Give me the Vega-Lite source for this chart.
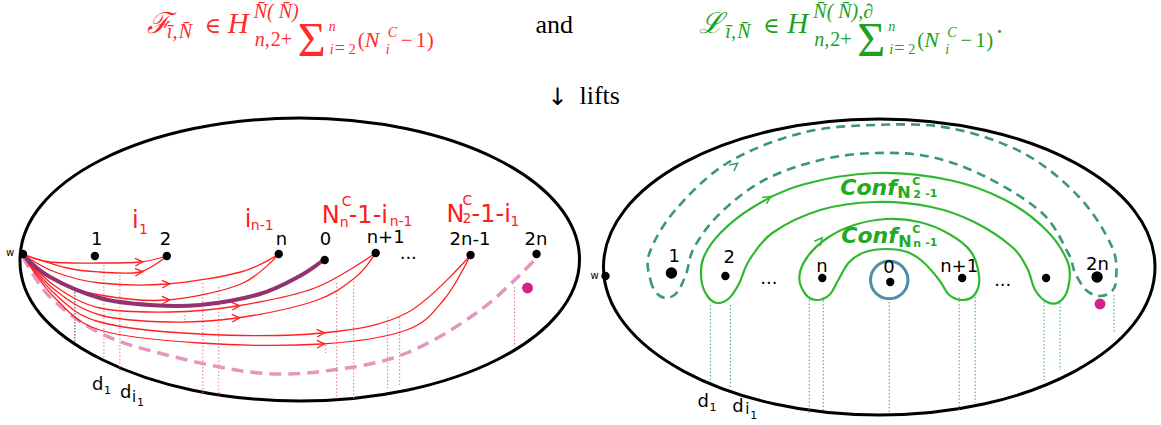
{
"$schema":"https://vega.github.io/schema/vega-lite/v6.json",
"width":1161,"height":425,
"autosize":{"type":"fit","contains":"padding"},
"padding":0,
"background":"white",
"config":{"view":{"stroke":null}},
"encoding":{
 "x":{"field":"x","type":"quantitative","scale":{"domain":[0,1161],"nice":false,"zero":false},"axis":null},
 "y":{"field":"y","type":"quantitative","scale":{"domain":[0,425],"nice":false,"zero":false,"reverse":true},"axis":null}
},
"datasets":{
"curves":[
{"kind":"ellipse","id":"eL","k":0,"x":580,"y":259.5},{"kind":"ellipse","id":"eL","k":1,"x":558.7,"y":313.7},{"kind":"ellipse","id":"eL","k":2,"x":498,"y":359.5},{"kind":"ellipse","id":"eL","k":3,"x":407.2,"y":390.2},{"kind":"ellipse","id":"eL","k":4,"x":300,"y":401},{"kind":"ellipse","id":"eL","k":5,"x":192.8,"y":390.2},{"kind":"ellipse","id":"eL","k":6,"x":102,"y":359.5},{"kind":"ellipse","id":"eL","k":7,"x":40,"y":313.7},{"kind":"ellipse","id":"eL","k":8,"x":20,"y":259.5},{"kind":"ellipse","id":"eL","k":9,"x":41.3,"y":205.3},{"kind":"ellipse","id":"eL","k":10,"x":102,"y":159.5},{"kind":"ellipse","id":"eL","k":11,"x":192.8,"y":128.8},{"kind":"ellipse","id":"eL","k":12,"x":300,"y":118},{"kind":"ellipse","id":"eL","k":13,"x":407.2,"y":128.8},{"kind":"ellipse","id":"eL","k":14,"x":498,"y":159.5},{"kind":"ellipse","id":"eL","k":15,"x":558.7,"y":205.3},
{"kind":"ellipse","id":"eR","k":0,"x":1156,"y":267},{"kind":"ellipse","id":"eR","k":1,"x":1135,"y":323.7},{"kind":"ellipse","id":"eR","k":2,"x":1075.1,"y":371.6},{"kind":"ellipse","id":"eR","k":3,"x":985.7,"y":403.8},{"kind":"ellipse","id":"eR","k":4,"x":880,"y":415},{"kind":"ellipse","id":"eR","k":5,"x":774.3,"y":403.8},{"kind":"ellipse","id":"eR","k":6,"x":684.9,"y":371.6},{"kind":"ellipse","id":"eR","k":7,"x":625,"y":323.7},{"kind":"ellipse","id":"eR","k":8,"x":604,"y":267},{"kind":"ellipse","id":"eR","k":9,"x":625,"y":210.3},{"kind":"ellipse","id":"eR","k":10,"x":684.9,"y":162.4},{"kind":"ellipse","id":"eR","k":11,"x":774.3,"y":130.2},{"kind":"ellipse","id":"eR","k":12,"x":880,"y":119},{"kind":"ellipse","id":"eR","k":13,"x":985.7,"y":130.2},{"kind":"ellipse","id":"eR","k":14,"x":1075.1,"y":162.4},{"kind":"ellipse","id":"eR","k":15,"x":1135,"y":210.3},
{"kind":"red","id":"r1","k":0,"x":22,"y":254},{"kind":"red","id":"r1","k":1,"x":50,"y":262},{"kind":"red","id":"r1","k":2,"x":100,"y":263},{"kind":"red","id":"r1","k":3,"x":140,"y":262},{"kind":"red","id":"r1","k":4,"x":167,"y":256},
{"kind":"red","id":"r2","k":0,"x":22,"y":254},{"kind":"red","id":"r2","k":1,"x":67,"y":268},{"kind":"red","id":"r2","k":2,"x":100,"y":272},{"kind":"red","id":"r2","k":3,"x":140,"y":272},{"kind":"red","id":"r2","k":4,"x":167,"y":256},
{"kind":"red","id":"r3","k":0,"x":22,"y":254},{"kind":"red","id":"r3","k":1,"x":55,"y":272},{"kind":"red","id":"r3","k":2,"x":100,"y":283},{"kind":"red","id":"r3","k":3,"x":167,"y":284},{"kind":"red","id":"r3","k":4,"x":241,"y":272},{"kind":"red","id":"r3","k":5,"x":279,"y":254},
{"kind":"red","id":"r4","k":0,"x":22,"y":254},{"kind":"red","id":"r4","k":1,"x":55,"y":280},{"kind":"red","id":"r4","k":2,"x":100,"y":295},{"kind":"red","id":"r4","k":3,"x":167,"y":300},{"kind":"red","id":"r4","k":4,"x":241,"y":284},{"kind":"red","id":"r4","k":5,"x":279,"y":254},
{"kind":"red","id":"r5","k":0,"x":22,"y":254},{"kind":"red","id":"r5","k":1,"x":55,"y":286},{"kind":"red","id":"r5","k":2,"x":100,"y":308},{"kind":"red","id":"r5","k":3,"x":170,"y":312},{"kind":"red","id":"r5","k":4,"x":237,"y":306},{"kind":"red","id":"r5","k":5,"x":315,"y":288},{"kind":"red","id":"r5","k":6,"x":376,"y":253},
{"kind":"red","id":"r6","k":0,"x":22,"y":254},{"kind":"red","id":"r6","k":1,"x":55,"y":290},{"kind":"red","id":"r6","k":2,"x":100,"y":315},{"kind":"red","id":"r6","k":3,"x":170,"y":322},{"kind":"red","id":"r6","k":4,"x":237,"y":318},{"kind":"red","id":"r6","k":5,"x":315,"y":301},{"kind":"red","id":"r6","k":6,"x":355,"y":278},{"kind":"red","id":"r6","k":7,"x":376,"y":253},
{"kind":"red","id":"r7","k":0,"x":22,"y":254},{"kind":"red","id":"r7","k":1,"x":55,"y":294},{"kind":"red","id":"r7","k":2,"x":100,"y":322},{"kind":"red","id":"r7","k":3,"x":200,"y":334},{"kind":"red","id":"r7","k":4,"x":322,"y":333},{"kind":"red","id":"r7","k":5,"x":407,"y":313},{"kind":"red","id":"r7","k":6,"x":471,"y":255},
{"kind":"red","id":"r8","k":0,"x":22,"y":254},{"kind":"red","id":"r8","k":1,"x":55,"y":298},{"kind":"red","id":"r8","k":2,"x":100,"y":330},{"kind":"red","id":"r8","k":3,"x":200,"y":343},{"kind":"red","id":"r8","k":4,"x":322,"y":344},{"kind":"red","id":"r8","k":5,"x":407,"y":330},{"kind":"red","id":"r8","k":6,"x":444,"y":300},{"kind":"red","id":"r8","k":7,"x":471,"y":255},
{"kind":"purple","id":"p","k":0,"x":22,"y":254},{"kind":"purple","id":"p","k":1,"x":50,"y":277},{"kind":"purple","id":"p","k":2,"x":100,"y":298},{"kind":"purple","id":"p","k":3,"x":150,"y":305},{"kind":"purple","id":"p","k":4,"x":200,"y":305},{"kind":"purple","id":"p","k":5,"x":260,"y":294},{"kind":"purple","id":"p","k":6,"x":300,"y":276},{"kind":"purple","id":"p","k":7,"x":325,"y":259},
{"kind":"pink","id":"pk","k":0,"x":23,"y":257},{"kind":"pink","id":"pk","k":1,"x":50,"y":297},{"kind":"pink","id":"pk","k":2,"x":100,"y":333},{"kind":"pink","id":"pk","k":3,"x":167,"y":355},{"kind":"pink","id":"pk","k":4,"x":259,"y":373},{"kind":"pink","id":"pk","k":5,"x":333,"y":370},{"kind":"pink","id":"pk","k":6,"x":407,"y":353},{"kind":"pink","id":"pk","k":7,"x":481,"y":310},{"kind":"pink","id":"pk","k":8,"x":537,"y":258},
{"kind":"green","id":"g1","k":0,"x":702,"y":280},{"kind":"green","id":"g1","k":1,"x":708,"y":296},{"kind":"green","id":"g1","k":2,"x":718,"y":303},{"kind":"green","id":"g1","k":3,"x":730,"y":298},{"kind":"green","id":"g1","k":4,"x":740,"y":283},{"kind":"green","id":"g1","k":5,"x":750,"y":260},{"kind":"green","id":"g1","k":6,"x":773,"y":233},{"kind":"green","id":"g1","k":7,"x":821,"y":210},{"kind":"green","id":"g1","k":8,"x":876,"y":202},{"kind":"green","id":"g1","k":9,"x":932,"y":207},{"kind":"green","id":"g1","k":10,"x":975,"y":222},{"kind":"green","id":"g1","k":11,"x":1013,"y":247},{"kind":"green","id":"g1","k":12,"x":1028,"y":268},{"kind":"green","id":"g1","k":13,"x":1036,"y":290},{"kind":"green","id":"g1","k":14,"x":1048,"y":302},{"kind":"green","id":"g1","k":15,"x":1060,"y":302},{"kind":"green","id":"g1","k":16,"x":1069,"y":288},{"kind":"green","id":"g1","k":17,"x":1069,"y":263},{"kind":"green","id":"g1","k":18,"x":1047,"y":230},{"kind":"green","id":"g1","k":19,"x":1006,"y":200},{"kind":"green","id":"g1","k":20,"x":950,"y":180},{"kind":"green","id":"g1","k":21,"x":876,"y":173},{"kind":"green","id":"g1","k":22,"x":802,"y":185},{"kind":"green","id":"g1","k":23,"x":754,"y":207},{"kind":"green","id":"g1","k":24,"x":721,"y":233},{"kind":"green","id":"g1","k":25,"x":704,"y":258},
{"kind":"green","id":"g2","k":0,"x":800,"y":277},{"kind":"green","id":"g2","k":1,"x":806,"y":294},{"kind":"green","id":"g2","k":2,"x":817,"y":300},{"kind":"green","id":"g2","k":3,"x":830,"y":295},{"kind":"green","id":"g2","k":4,"x":839,"y":280},{"kind":"green","id":"g2","k":5,"x":850,"y":262},{"kind":"green","id":"g2","k":6,"x":866,"y":252},{"kind":"green","id":"g2","k":7,"x":887,"y":249},{"kind":"green","id":"g2","k":8,"x":908,"y":252},{"kind":"green","id":"g2","k":9,"x":924,"y":262},{"kind":"green","id":"g2","k":10,"x":940,"y":280},{"kind":"green","id":"g2","k":11,"x":950,"y":295},{"kind":"green","id":"g2","k":12,"x":964,"y":300},{"kind":"green","id":"g2","k":13,"x":976,"y":294},{"kind":"green","id":"g2","k":14,"x":980,"y":277},{"kind":"green","id":"g2","k":15,"x":972,"y":252},{"kind":"green","id":"g2","k":16,"x":950,"y":234},{"kind":"green","id":"g2","k":17,"x":920,"y":222},{"kind":"green","id":"g2","k":18,"x":887,"y":219},{"kind":"green","id":"g2","k":19,"x":855,"y":225},{"kind":"green","id":"g2","k":20,"x":828,"y":238},{"kind":"green","id":"g2","k":21,"x":808,"y":257},
{"kind":"teal","id":"t1","k":0,"x":650,"y":253},{"kind":"teal","id":"t1","k":1,"x":651,"y":280},{"kind":"teal","id":"t1","k":2,"x":658,"y":294},{"kind":"teal","id":"t1","k":3,"x":668,"y":298},{"kind":"teal","id":"t1","k":4,"x":678,"y":292},{"kind":"teal","id":"t1","k":5,"x":687,"y":273},{"kind":"teal","id":"t1","k":6,"x":695,"y":247},{"kind":"teal","id":"t1","k":7,"x":721,"y":213},{"kind":"teal","id":"t1","k":8,"x":765,"y":180},{"kind":"teal","id":"t1","k":9,"x":821,"y":160},{"kind":"teal","id":"t1","k":10,"x":876,"y":153},{"kind":"teal","id":"t1","k":11,"x":932,"y":157},{"kind":"teal","id":"t1","k":12,"x":987,"y":177},{"kind":"teal","id":"t1","k":13,"x":1043,"y":213},{"kind":"teal","id":"t1","k":14,"x":1069,"y":253},{"kind":"teal","id":"t1","k":15,"x":1076,"y":273},{"kind":"teal","id":"t1","k":16,"x":1087,"y":290},{"kind":"teal","id":"t1","k":17,"x":1100,"y":296},{"kind":"teal","id":"t1","k":18,"x":1112,"y":292},{"kind":"teal","id":"t1","k":19,"x":1117,"y":280},{"kind":"teal","id":"t1","k":20,"x":1113,"y":247},{"kind":"teal","id":"t1","k":21,"x":1080,"y":197},{"kind":"teal","id":"t1","k":22,"x":1024,"y":153},{"kind":"teal","id":"t1","k":23,"x":950,"y":128},{"kind":"teal","id":"t1","k":24,"x":876,"y":125},{"kind":"teal","id":"t1","k":25,"x":802,"y":133},{"kind":"teal","id":"t1","k":26,"x":728,"y":163},{"kind":"teal","id":"t1","k":27,"x":676,"y":210}
],
"rules":[
{"side":"Ldark","x":75,"y":292,"y2":343},
{"side":"L","x":104,"y":265,"y2":358},{"side":"L","x":120,"y":275,"y2":372},{"side":"L","x":185,"y":315,"y2":323},{"side":"L","x":203,"y":283,"y2":395},{"side":"L","x":219,"y":287,"y2":397},{"side":"L","x":326,"y":345,"y2":353},{"side":"L","x":337,"y":283,"y2":398},{"side":"L","x":354,"y":278,"y2":399},{"side":"L","x":388,"y":317,"y2":390},{"side":"L","x":400,"y":317,"y2":387},{"side":"L","x":515,"y":287,"y2":347},
{"side":"R","x":711,"y":305,"y2":382},{"side":"R","x":731,"y":305,"y2":387},{"side":"R","x":810,"y":300,"y2":413},{"side":"R","x":824,"y":297,"y2":410},{"side":"R","x":890,"y":302,"y2":413},{"side":"R","x":960,"y":297,"y2":410},{"side":"R","x":976,"y":297,"y2":403},{"side":"R","x":1045,"y":302,"y2":380},{"side":"R","x":1061,"y":303,"y2":370},{"side":"R","x":1115,"y":295,"y2":333}
],
"dots":[
{"kind":"plain","x":23,"y":254},{"kind":"plain","x":95,"y":256},{"kind":"plain","x":167,"y":256},{"kind":"plain","x":279,"y":254},{"kind":"plain","x":325,"y":260},{"kind":"plain","x":376,"y":253},{"kind":"plain","x":471,"y":255},{"kind":"plain","x":537,"y":254},
{"kind":"plain","x":606,"y":276},{"kind":"plain","x":726,"y":276},{"kind":"plain","x":823,"y":278},{"kind":"plain","x":891,"y":282},{"kind":"plain","x":963,"y":278},{"kind":"plain","x":1047,"y":278},
{"kind":"big","x":672,"y":273},{"kind":"big","x":1098,"y":277},
{"kind":"base","x":528,"y":288},{"kind":"base","x":1101,"y":304},
{"kind":"ring","x":890,"y":280}
],
"arrows":[
{"id":"left","x":140,"y":262},{"id":"left","x":140,"y":272},{"id":"left","x":167,"y":284},{"id":"left","x":167,"y":300},{"id":"left","x":237,"y":306},{"id":"left","x":237,"y":318},{"id":"left","x":322,"y":333},{"id":"left","x":322,"y":344},
{"id":"dash","x":736,"y":165},{"id":"outer","x":769,"y":198},{"id":"inner","x":821,"y":240}
],
"texts":[
{"role":"sym","part":"F","x":147,"y":33,"t":"ℱ"},{"role":"sym","part":"F","x":228,"y":33,"t":"H"},{"role":"sym","part":"L","x":700,"y":33,"t":"ℒ"},{"role":"sym","part":"L","x":788,"y":33,"t":"H"},
{"role":"rel","part":"F","x":205,"y":33,"t":"∈"},{"role":"rel","part":"L","x":764,"y":33,"t":"∈"},
{"role":"sup","part":"F","x":167,"y":38,"t":"ī,"},{"role":"sup","part":"F","x":179,"y":38,"t":"N̄"},{"role":"sup","part":"F","x":254,"y":18,"t":"N̄("},{"role":"sup","part":"F","x":279,"y":18,"t":"N̄)"},{"role":"sup","part":"F","x":255,"y":46,"t":"n,"},
{"role":"sup","part":"L","x":726,"y":38,"t":"ī,"},{"role":"sup","part":"L","x":738,"y":38,"t":"N̄"},{"role":"sup","part":"L","x":814,"y":18,"t":"N̄("},{"role":"sup","part":"L","x":839,"y":18,"t":"N̄),∂"},{"role":"sup","part":"L","x":815,"y":46,"t":"n,"},
{"role":"supU","part":"F","x":271,"y":46,"t":"2+"},{"role":"supU","part":"L","x":831,"y":46,"t":"2+"},
{"role":"sum","part":"F","x":298,"y":56,"t":"Σ"},{"role":"sum","part":"L","x":858,"y":56,"t":"Σ"},
{"role":"idx","part":"F","x":329,"y":31,"t":"n"},{"role":"idx","part":"F","x":330,"y":54,"t":"i"},{"role":"idx","part":"F","x":388,"y":37,"t":"C"},{"role":"idx","part":"F","x":386,"y":54,"t":"i"},
{"role":"idx","part":"L","x":889,"y":31,"t":"n"},{"role":"idx","part":"L","x":890,"y":54,"t":"i"},{"role":"idx","part":"L","x":948,"y":37,"t":"C"},{"role":"idx","part":"L","x":946,"y":54,"t":"i"},
{"role":"idxU","part":"F","x":349,"y":54,"t":"2"},{"role":"idxU","part":"L","x":909,"y":54,"t":"2"},
{"role":"eq","part":"F","x":335,"y":54,"t":"="},{"role":"eq","part":"L","x":895,"y":54,"t":"="},
{"role":"paren","part":"F","x":365,"y":47,"t":"N"},{"role":"paren","part":"L","x":925,"y":47,"t":"N"},
{"role":"parenU","part":"F","x":358,"y":47,"t":"("},{"role":"parenU","part":"F","x":401,"y":47,"t":"−"},{"role":"parenU","part":"F","x":416,"y":47,"t":"1"},{"role":"parenU","part":"F","x":427,"y":47,"t":")"},
{"role":"parenU","part":"L","x":918,"y":47,"t":"("},{"role":"parenU","part":"L","x":961,"y":47,"t":"−"},{"role":"parenU","part":"L","x":976,"y":47,"t":"1"},{"role":"parenU","part":"L","x":987,"y":47,"t":")"},
{"role":"word","part":"K","x":536,"y":33,"t":"and"},{"role":"word","part":"K","x":580,"y":104,"t":"lifts"},{"role":"word","part":"L","x":997,"y":33,"t":"."},
{"role":"arrowsym","part":"K","x":548,"y":105,"t":"↓"},
{"role":"num","part":"K","x":91,"y":245,"t":"1"},{"role":"num","part":"K","x":160,"y":245,"t":"2"},{"role":"num","part":"K","x":276,"y":245,"t":"n"},{"role":"num","part":"K","x":320,"y":245,"t":"0"},{"role":"num","part":"K","x":367,"y":243,"t":"n+1"},{"role":"num","part":"K","x":450,"y":245,"t":"2n-1"},{"role":"num","part":"K","x":525,"y":245,"t":"2n"},{"role":"num","part":"K","x":400,"y":259,"t":"..."},
{"role":"num","part":"K","x":669,"y":262,"t":"1"},{"role":"num","part":"K","x":724,"y":263,"t":"2"},{"role":"num","part":"K","x":817,"y":272,"t":"n"},{"role":"num","part":"K","x":884,"y":273,"t":"0"},{"role":"num","part":"K","x":941,"y":272,"t":"n+1"},{"role":"num","part":"K","x":1087,"y":270,"t":"2n"},{"role":"num","part":"K","x":761,"y":284,"t":"..."},{"role":"num","part":"K","x":995,"y":286,"t":"..."},
{"role":"num","part":"K","x":92,"y":390,"t":"d"},{"role":"num","part":"K","x":120,"y":398,"t":"d"},{"role":"num","part":"K","x":698,"y":407,"t":"d"},{"role":"num","part":"K","x":733,"y":412,"t":"d"},
{"role":"di","part":"K","x":132,"y":402,"t":"i"},{"role":"di","part":"K","x":746,"y":414,"t":"i"},
{"role":"dsub","part":"K","x":104,"y":394,"t":"1"},{"role":"dsub","part":"K","x":137,"y":406,"t":"1"},{"role":"dsub","part":"K","x":710,"y":411,"t":"1"},{"role":"dsub","part":"K","x":751,"y":419,"t":"1"},
{"role":"w","part":"K","x":6,"y":256,"t":"w"},{"role":"w","part":"K","x":591,"y":279,"t":"w"},
{"role":"label","part":"R","x":132,"y":228,"t":"i"},{"role":"label","part":"R","x":245,"y":227,"t":"i"},{"role":"label","part":"R","x":322,"y":223,"t":"N"},{"role":"label","part":"R","x":349,"y":223,"t":"-1-i"},{"role":"label","part":"R","x":447,"y":222,"t":"N"},{"role":"label","part":"R","x":472,"y":222,"t":"-1-i"},
{"role":"labelsub","part":"R","x":139,"y":234,"t":"1"},{"role":"labelsub","part":"R","x":251,"y":230,"t":"n-1"},{"role":"labelsub","part":"R","x":342,"y":206,"t":"C"},{"role":"labelsub","part":"R","x":340,"y":227,"t":"n"},{"role":"labelsub","part":"R","x":390,"y":226,"t":"n-1"},{"role":"labelsub","part":"R","x":463,"y":205,"t":"C"},{"role":"labelsub","part":"R","x":463,"y":223,"t":"2"},{"role":"labelsub","part":"R","x":511,"y":226,"t":"1"},
{"role":"conf","part":"G","x":841,"y":195,"t":"Conf"},{"role":"conf","part":"G","x":842,"y":243,"t":"Conf"},
{"role":"confN","part":"G","x":898,"y":198,"t":"N"},{"role":"confN","part":"G","x":899,"y":247,"t":"N"},
{"role":"confsub","part":"G","x":913,"y":185,"t":"C"},{"role":"confsub","part":"G","x":914,"y":198,"t":"2"},{"role":"confsub","part":"G","x":926,"y":197,"t":"-1"},{"role":"confsub","part":"G","x":913,"y":233,"t":"C"},{"role":"confsub","part":"G","x":914,"y":247,"t":"n"},{"role":"confsub","part":"G","x":926,"y":246,"t":"-1"}
]
},
"layer":[
{"data":{"name":"curves"},"transform":[{"filter":"datum.kind==='ellipse'"}],"mark":{"type":"line","interpolate":"cardinal-closed","stroke":"#000000","strokeWidth":3},"encoding":{"detail":{"field":"id"},"order":{"field":"k","type":"quantitative"}}},
{"data":{"name":"rules"},"transform":[{"filter":"datum.side==='L'"}],"mark":{"type":"rule","stroke":"#e8708e","strokeWidth":1,"strokeDash":[1.5,2]},"encoding":{"y2":{"field":"y2"}}},
{"data":{"name":"rules"},"transform":[{"filter":"datum.side==='Ldark'"}],"mark":{"type":"rule","stroke":"#6a2048","strokeWidth":1,"strokeDash":[1.5,1.5]},"encoding":{"y2":{"field":"y2"}}},
{"data":{"name":"rules"},"transform":[{"filter":"datum.side==='R'"}],"mark":{"type":"rule","stroke":"#3fa07e","strokeWidth":1,"strokeDash":[1.5,2]},"encoding":{"y2":{"field":"y2"}}},
{"data":{"name":"curves"},"transform":[{"filter":"datum.kind==='pink'"}],"mark":{"type":"line","interpolate":"cardinal","stroke":"#e396c0","strokeWidth":3.5,"strokeDash":[12,7]},"encoding":{"detail":{"field":"id"},"order":{"field":"k","type":"quantitative"}}},
{"data":{"name":"curves"},"transform":[{"filter":"datum.kind==='red'"}],"mark":{"type":"line","interpolate":"cardinal","stroke":"#ff1f1f","strokeWidth":1.3},"encoding":{"detail":{"field":"id"},"order":{"field":"k","type":"quantitative"}}},
{"data":{"name":"curves"},"transform":[{"filter":"datum.kind==='purple'"}],"mark":{"type":"line","interpolate":"cardinal","stroke":"#923270","strokeWidth":4},"encoding":{"detail":{"field":"id"},"order":{"field":"k","type":"quantitative"}}},
{"data":{"name":"curves"},"transform":[{"filter":"datum.kind==='green'"}],"mark":{"type":"line","interpolate":"cardinal-closed","stroke":"#2fb82f","strokeWidth":2.2},"encoding":{"detail":{"field":"id"},"order":{"field":"k","type":"quantitative"}}},
{"data":{"name":"curves"},"transform":[{"filter":"datum.kind==='teal'"}],"mark":{"type":"line","interpolate":"cardinal-closed","stroke":"#3d957a","strokeWidth":2.6,"strokeDash":[9,6]},"encoding":{"detail":{"field":"id"},"order":{"field":"k","type":"quantitative"}}},
{"data":{"name":"dots"},"transform":[{"filter":"datum.kind==='ring'"}],"mark":{"type":"point","shape":"circle","filled":false,"stroke":"#4b90a4","strokeWidth":3,"size":1400,"opacity":1}},
{"data":{"name":"dots"},"transform":[{"filter":"datum.kind==='plain'"}],"mark":{"type":"point","shape":"circle","filled":true,"color":"#000000","size":70,"opacity":1}},
{"data":{"name":"dots"},"transform":[{"filter":"datum.kind==='big'"}],"mark":{"type":"point","shape":"circle","filled":true,"color":"#000000","size":130,"opacity":1}},
{"data":{"name":"dots"},"transform":[{"filter":"datum.kind==='base'"}],"mark":{"type":"point","shape":"circle","filled":true,"color":"#d0248c","size":120,"opacity":1}},
{"data":{"name":"arrows"},"transform":[{"filter":"datum.id==='left'"}],"mark":{"type":"point","shape":"M-1,-0.8L0.6,0L-1,0.8","filled":false,"stroke":"#ff1f1f","strokeWidth":1.3,"size":90,"opacity":1,"angle":-3}},
{"data":{"name":"arrows"},"transform":[{"filter":"datum.id==='dash'"}],"mark":{"type":"point","shape":"M-1,-0.8L0.6,0L-1,0.8","filled":false,"stroke":"#3d957a","strokeWidth":1.5,"size":90,"opacity":1,"angle":-38}},
{"data":{"name":"arrows"},"transform":[{"filter":"datum.id==='outer'"}],"mark":{"type":"point","shape":"M-1,-0.8L0.6,0L-1,0.8","filled":false,"stroke":"#2fb82f","strokeWidth":1.5,"size":90,"opacity":1,"angle":-33}},
{"data":{"name":"arrows"},"transform":[{"filter":"datum.id==='inner'"}],"mark":{"type":"point","shape":"M-1,-0.8L0.6,0L-1,0.8","filled":false,"stroke":"#2fb82f","strokeWidth":1.5,"size":90,"opacity":1,"angle":-50}},
{"data":{"name":"texts"},"transform":[{"filter":"datum.role==='sym'"}],"mark":{"type":"text","align":"left","baseline":"alphabetic","font":"Liberation Serif","fontStyle":"italic","fontSize":29},"encoding":{"text":{"field":"t"},"color":{"field":"part","type":"nominal","scale":{"domain":["F","L","K","R","G"],"range":["#ff2b2b","#20a020","#000000","#ff1c1c","#22aa22"]},"legend":null}}},
{"data":{"name":"texts"},"transform":[{"filter":"datum.role==='rel'"}],"mark":{"type":"text","align":"left","baseline":"alphabetic","font":"DejaVu Serif","fontSize":22},"encoding":{"text":{"field":"t"},"color":{"field":"part","type":"nominal","legend":null}}},
{"data":{"name":"texts"},"transform":[{"filter":"datum.role==='sup'"}],"mark":{"type":"text","align":"left","baseline":"alphabetic","font":"Liberation Serif","fontStyle":"italic","fontSize":20},"encoding":{"text":{"field":"t"},"color":{"field":"part","type":"nominal","legend":null}}},
{"data":{"name":"texts"},"transform":[{"filter":"datum.role==='supU'"}],"mark":{"type":"text","align":"left","baseline":"alphabetic","font":"Liberation Serif","fontSize":20},"encoding":{"text":{"field":"t"},"color":{"field":"part","type":"nominal","legend":null}}},
{"data":{"name":"texts"},"transform":[{"filter":"datum.role==='sum'"}],"mark":{"type":"text","align":"left","baseline":"alphabetic","font":"Liberation Serif","fontSize":48},"encoding":{"text":{"field":"t"},"color":{"field":"part","type":"nominal","legend":null}}},
{"data":{"name":"texts"},"transform":[{"filter":"datum.role==='idx'"}],"mark":{"type":"text","align":"left","baseline":"alphabetic","font":"Liberation Serif","fontStyle":"italic","fontSize":14},"encoding":{"text":{"field":"t"},"color":{"field":"part","type":"nominal","legend":null}}},
{"data":{"name":"texts"},"transform":[{"filter":"datum.role==='idxU'"}],"mark":{"type":"text","align":"left","baseline":"alphabetic","font":"Liberation Serif","fontSize":14},"encoding":{"text":{"field":"t"},"color":{"field":"part","type":"nominal","legend":null}}},
{"data":{"name":"texts"},"transform":[{"filter":"datum.role==='eq'"}],"mark":{"type":"text","align":"left","baseline":"alphabetic","font":"Liberation Serif","fontSize":18},"encoding":{"text":{"field":"t"},"color":{"field":"part","type":"nominal","legend":null}}},
{"data":{"name":"texts"},"transform":[{"filter":"datum.role==='paren'"}],"mark":{"type":"text","align":"left","baseline":"alphabetic","font":"Liberation Serif","fontStyle":"italic","fontSize":22},"encoding":{"text":{"field":"t"},"color":{"field":"part","type":"nominal","legend":null}}},
{"data":{"name":"texts"},"transform":[{"filter":"datum.role==='parenU'"}],"mark":{"type":"text","align":"left","baseline":"alphabetic","font":"Liberation Serif","fontSize":21},"encoding":{"text":{"field":"t"},"color":{"field":"part","type":"nominal","legend":null}}},
{"data":{"name":"texts"},"transform":[{"filter":"datum.role==='word'"}],"mark":{"type":"text","align":"left","baseline":"alphabetic","font":"Liberation Serif","fontSize":26},"encoding":{"text":{"field":"t"},"color":{"field":"part","type":"nominal","legend":null}}},
{"data":{"name":"texts"},"transform":[{"filter":"datum.role==='arrowsym'"}],"mark":{"type":"text","align":"left","baseline":"alphabetic","font":"DejaVu Sans","fontSize":24},"encoding":{"text":{"field":"t"},"color":{"field":"part","type":"nominal","legend":null}}},
{"data":{"name":"texts"},"transform":[{"filter":"datum.role==='num'"}],"mark":{"type":"text","align":"left","baseline":"alphabetic","font":"DejaVu Sans","fontSize":18},"encoding":{"text":{"field":"t"},"color":{"field":"part","type":"nominal","legend":null}}},
{"data":{"name":"texts"},"transform":[{"filter":"datum.role==='di'"}],"mark":{"type":"text","align":"left","baseline":"alphabetic","font":"DejaVu Sans","fontSize":15},"encoding":{"text":{"field":"t"},"color":{"field":"part","type":"nominal","legend":null}}},
{"data":{"name":"texts"},"transform":[{"filter":"datum.role==='dsub'"}],"mark":{"type":"text","align":"left","baseline":"alphabetic","font":"DejaVu Sans","fontSize":11},"encoding":{"text":{"field":"t"},"color":{"field":"part","type":"nominal","legend":null}}},
{"data":{"name":"texts"},"transform":[{"filter":"datum.role==='w'"}],"mark":{"type":"text","align":"left","baseline":"alphabetic","font":"DejaVu Sans","fontSize":10},"encoding":{"text":{"field":"t"},"color":{"field":"part","type":"nominal","legend":null}}},
{"data":{"name":"texts"},"transform":[{"filter":"datum.role==='label'"}],"mark":{"type":"text","align":"left","baseline":"alphabetic","font":"DejaVu Sans","fontSize":24},"encoding":{"text":{"field":"t"},"color":{"field":"part","type":"nominal","legend":null}}},
{"data":{"name":"texts"},"transform":[{"filter":"datum.role==='labelsub'"}],"mark":{"type":"text","align":"left","baseline":"alphabetic","font":"DejaVu Sans","fontSize":14},"encoding":{"text":{"field":"t"},"color":{"field":"part","type":"nominal","legend":null}}},
{"data":{"name":"texts"},"transform":[{"filter":"datum.role==='conf'"}],"mark":{"type":"text","align":"left","baseline":"alphabetic","font":"DejaVu Sans","fontStyle":"italic","fontWeight":"bold","fontSize":22},"encoding":{"text":{"field":"t"},"color":{"field":"part","type":"nominal","legend":null}}},
{"data":{"name":"texts"},"transform":[{"filter":"datum.role==='confN'"}],"mark":{"type":"text","align":"left","baseline":"alphabetic","font":"DejaVu Sans","fontWeight":"bold","fontSize":16},"encoding":{"text":{"field":"t"},"color":{"field":"part","type":"nominal","legend":null}}},
{"data":{"name":"texts"},"transform":[{"filter":"datum.role==='confsub'"}],"mark":{"type":"text","align":"left","baseline":"alphabetic","font":"DejaVu Sans","fontWeight":"bold","fontSize":11},"encoding":{"text":{"field":"t"},"color":{"field":"part","type":"nominal","legend":null}}}
]
}
